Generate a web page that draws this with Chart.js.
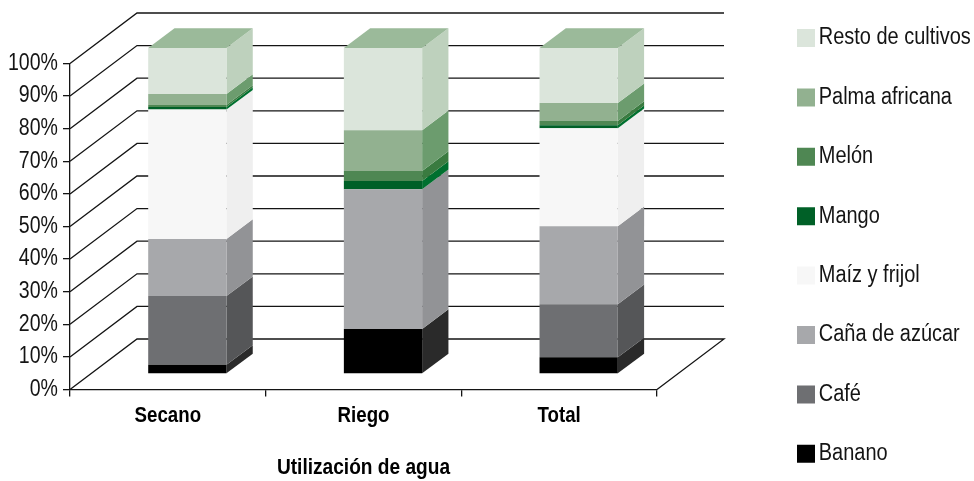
<!DOCTYPE html>
<html><head><meta charset="utf-8">
<style>html,body{margin:0;padding:0;background:#fff}canvas{display:block}</style>
<script src="https://cdn.jsdelivr.net/npm/chart.js@4"></script>
</head><body>
<div style="width:974px;height:481px"><canvas id="c" width="974" height="481"></canvas></div>
<script>
const categories = ['Secano','Riego','Total'];
const yTicks = [0,10,20,30,40,50,60,70,80,90,100];
const axisTitle = 'Utilización de agua';
const banano = [2.8,13.8,5.1];
const cafe   = [21.1,0,16.3];
const cana   = [17.5,42.9,23.9];
const maiz   = [39.7,0,30.1];
const mango  = [0.8,2.5,0.9];
const melon  = [0.6,3.1,1.3];
const palma  = [3.4,12.5,5.5];
const resto  = [14.1,25.2,16.9];
const names  = ['Banano','Café','Caña de azúcar','Maíz y frijol','Mango','Melón','Palma africana','Resto de cultivos'];
const series = [banano,cafe,cana,maiz,mango,melon,palma,resto];
const frontColors = ['#000000','#6e6f72','#a7a8ab','#f7f7f7','#006027','#4f8753','#92b190','#dbe5db'];
const sideColors  = ['#2a2a2a','#555658','#929396','#efefef','#00702f','#3a7b40','#6c9c6e','#bed1bd'];
const topColor = '#9bba9a';
const FONT = '"Liberation Sans",sans-serif';
const INK = '#141414';
const wall = {dx:67, dy:50.5};
const barShift = {dx:19.5, dy:15.5};
const barDepth = {dx:26.3, dy:19.7};
const LEGEND_SIZE = 23.5, LEGEND_PAD = 35.9, LEGEND_BOX = 18;
const legendPos = {left:797, top:26.25, width:175};
const condense = 0.85;
const legendTextNudge = 8;

const canvas = document.getElementById('c');
const c2d = canvas.getContext('2d');
const rawFill = c2d.fillText.bind(c2d), rawMeasure = c2d.measureText.bind(c2d);
c2d.fillText = function(t,x,y){
  if(c2d.font.indexOf(LEGEND_SIZE+'px')>=0) x -= legendTextNudge;
  c2d.save(); c2d.translate(x,y); c2d.scale(condense,1);
  rawFill(t,0,0);
  c2d.restore();
};
c2d.measureText = function(t){ return {width:rawMeasure(t).width*condense}; };

const poly = (ctx, pts, fill) => {
  ctx.beginPath();
  pts.forEach((p,i)=> i?ctx.lineTo(p[0],p[1]):ctx.moveTo(p[0],p[1]));
  ctx.closePath();
  ctx.fillStyle = fill;
  ctx.fill();
};
const threeD = {
  id:'threeD',
  beforeLayout(chart){
    const l = chart.legend;
    if(l.__patched) return;
    l.__patched = true;
    const up = l.update;
    l.update = function(w,h,m){ up.call(this,w,2000,m); this.width = legendPos.width; };
  },
  afterLayout(chart){
    const l = chart.legend;
    l.left = legendPos.left - LEGEND_PAD; l.right = l.left + legendPos.width + LEGEND_PAD;
    l.top = legendPos.top - LEGEND_PAD; l.bottom = 2000;
    l.adjustHitBoxes();
  },
  beforeDatasetsDraw(chart){
    const {ctx, chartArea:a, scales:{y}} = chart;
    ctx.save();
    ctx.strokeStyle = INK; ctx.lineWidth = 1.3;
    yTicks.forEach(v=>{
      const py = y.getPixelForValue(v);
      ctx.beginPath();
      ctx.moveTo(a.left,py);
      ctx.lineTo(a.left+wall.dx,py-wall.dy);
      ctx.lineTo(a.right+wall.dx,py-wall.dy);
      if(v===0) ctx.lineTo(a.right,py);
      ctx.stroke();
    });
    ctx.translate(barShift.dx,-barShift.dy);
    chart.data.datasets.forEach((ds,d)=>{
      chart.getDatasetMeta(d).data.forEach((b,i)=>{
        if(!ds.data[i]) return;
        const r = b.x+b.width/2, l = b.x-b.width/2, t = b.y, bt = b.base;
        poly(ctx,[[r,t],[r+barDepth.dx,t-barDepth.dy],[r+barDepth.dx,bt-barDepth.dy],[r,bt]],sideColors[d]);
        if(d===chart.data.datasets.length-1)
          poly(ctx,[[l,t],[l+barDepth.dx,t-barDepth.dy],[r+barDepth.dx,t-barDepth.dy],[r,t]],topColor);
      });
    });
  },
  afterDatasetsDraw(chart){ chart.ctx.restore(); }
};

new Chart(canvas,{
  type:'bar',
  plugins:[threeD],
  data:{labels:categories,datasets:series.map((s,i)=>({
    label:names[i],data:s,backgroundColor:frontColors[i],borderWidth:0,
    barPercentage:0.4,categoryPercentage:1,clip:false
  }))},
  options:{
    responsive:false,animation:false,
    layout:{padding:{top:63.5,left:0,right:142,bottom:0}},
    plugins:{
      tooltip:{enabled:false},
      legend:{position:'right',align:'start',reverse:true,
        labels:{boxWidth:LEGEND_BOX,boxHeight:LEGEND_BOX,padding:LEGEND_PAD,color:INK,font:{family:FONT,size:LEGEND_SIZE}}}
    },
    scales:{
      x:{stacked:true,
        grid:{drawOnChartArea:false,drawTicks:true,tickLength:7,color:INK,lineWidth:1.3},
        border:{display:true,color:INK,width:1.3},
        ticks:{color:'#000',padding:6,font:{family:FONT,size:22,weight:'bold'},maxRotation:0},
        title:{display:true,text:axisTitle,color:'#000',font:{family:FONT,size:22.5,weight:'bold'},padding:{top:19,bottom:0}},
        afterFit(s){s.height=91.5;}
      },
      y:{stacked:true,min:0,max:100,
        grid:{drawOnChartArea:false,drawTicks:true,tickLength:7,color:INK,lineWidth:1.3},
        border:{display:true,color:INK,width:1.3},
        ticks:{stepSize:10,color:INK,padding:5,font:{family:FONT,size:23},callback:v=>v+'%'},
        afterFit(s){s.width=70;}
      }
    }
  }
});
</script>
</body></html>
